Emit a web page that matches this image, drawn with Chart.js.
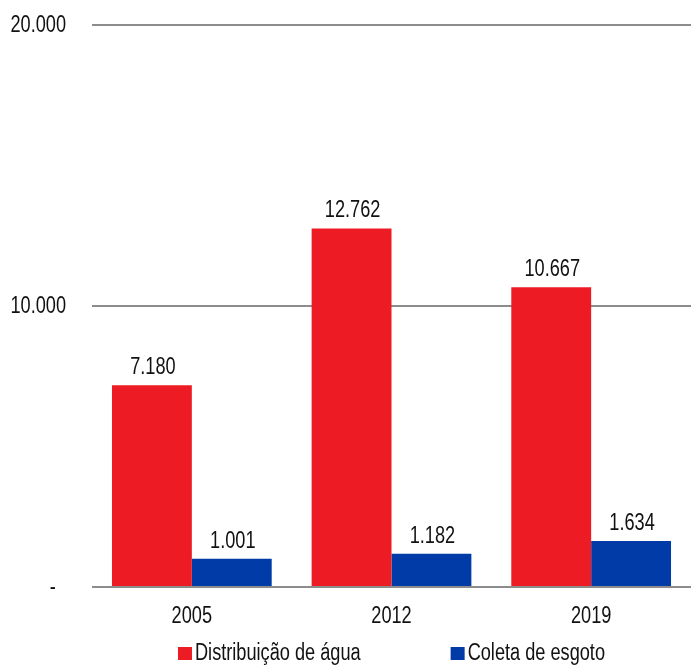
<!DOCTYPE html>
<html lang="pt-BR">
<head>
<meta charset="utf-8">
<title>Distribuição de água e coleta de esgoto</title>
<script src="https://cdn.jsdelivr.net/npm/chart.js@4.4.1/dist/chart.umd.min.js"></script>
<style>
  html, body { margin: 0; padding: 0; background: #fff; }
  #wrap { width: 691px; height: 665px; position: relative; }
</style>
</head>
<body>
<div id="wrap"><canvas id="grafico"></canvas></div>
<script>
// dados
const anos = ['2005', '2012', '2019'];
const distribuicaoAgua = [7180, 12762, 10667];
const coletaEsgoto = [1001, 1182, 1634];
const ticksY = [0, 10000, 20000];

const FONTE = "'Liberation Sans', Arial, sans-serif";
const TAM = 23;        // tamanho da fonte
const ESTREITO = 0.79; // fonte "narrow": comprime na horizontal
const VERMELHO = '#ED1C24';
const AZUL = '#003BA8';
const TEXTO = '#111';

// formata número com ponto de milhar (0 vira "-")
function formatar(v) {
  if (v === 0) return '-  ';
  return v.toString().replace(/\B(?=(\d{3})+(?!\d))/g, '.');
}

// escreve texto condensado
function texto(ctx, str, x, y, align, baseline) {
  ctx.save();
  ctx.translate(x, y);
  ctx.scale(ESTREITO, 1);
  ctx.font = `${TAM}px ${FONTE}`;
  ctx.fillStyle = TEXTO;
  ctx.textAlign = align;
  ctx.textBaseline = baseline;
  ctx.fillText(str, 0, 0);
  ctx.restore();
}

function larguraTexto(ctx, str) {
  ctx.save();
  ctx.font = `${TAM}px ${FONTE}`;
  const w = ctx.measureText(str).width * ESTREITO;
  ctx.restore();
  return w;
}

// rótulos dos eixos (posições tiradas das escalas do gráfico)
const rotulosEixos = {
  id: 'rotulosEixos',
  afterDraw(chart) {
    const ctx = chart.ctx;
    const sy = chart.scales.y, sx = chart.scales.x;
    ticksY.forEach(v => {
      texto(ctx, formatar(v), 66, sy.getPixelForValue(v) + 1, 'right', 'middle');
    });
    anos.forEach((a, i) => {
      texto(ctx, a, sx.getPixelForValue(i), 623, 'center', 'alphabetic');
    });
  }
};

// valor acima de cada barra
const rotulosBarras = {
  id: 'rotulosBarras',
  afterDatasetsDraw(chart) {
    const ctx = chart.ctx;
    chart.data.datasets.forEach((ds, i) => {
      chart.getDatasetMeta(i).data.forEach((bar, j) => {
        texto(ctx, formatar(ds.data[j]), bar.x + 1, bar.y - 11, 'center', 'alphabetic');
      });
    });
  }
};

// legenda embaixo, centralizada na área do gráfico
const legendaBaixo = {
  id: 'legendaBaixo',
  afterDraw(chart) {
    const ctx = chart.ctx;
    const area = chart.chartArea;
    const caixa = 14, espaco = 3, entre = 90;
    const itens = chart.data.datasets.map(ds => ({
      rotulo: ds.label, cor: ds.backgroundColor,
      largura: caixa + espaco + larguraTexto(ctx, ds.label)
    }));
    const total = itens.reduce((s, it) => s + it.largura, 0) + entre * (itens.length - 1);
    let x = (area.left + area.right) / 2 - total / 2;
    const y = 660;
    itens.forEach(it => {
      ctx.fillStyle = it.cor;
      ctx.fillRect(x, y - 13, caixa, 13);
      texto(ctx, it.rotulo, x + caixa + espaco, y, 'left', 'alphabetic');
      x += it.largura + entre;
    });
  }
};

const ctx = document.getElementById('grafico').getContext('2d');
new Chart(ctx, {
  type: 'bar',
  data: {
    labels: anos,
    datasets: [
      {
        label: 'Distribuição de água',
        data: distribuicaoAgua,
        backgroundColor: VERMELHO,
        categoryPercentage: 0.8,
        barPercentage: 1.0
      },
      {
        label: 'Coleta de esgoto',
        data: coletaEsgoto,
        backgroundColor: AZUL,
        categoryPercentage: 0.8,
        barPercentage: 1.0
      }
    ]
  },
  options: {
    responsive: true,
    maintainAspectRatio: false,
    animation: false,
    layout: { padding: { top: 25, right: 0, bottom: 0, left: 0 } },
    plugins: {
      legend: { display: false },
      tooltip: { enabled: false }
    },
    scales: {
      x: {
        grid: { display: false, drawTicks: false },
        border: { display: false },
        ticks: { display: false },
        afterFit(scale) { scale.height = 78; }
      },
      y: {
        min: 0,
        max: 20000,
        afterBuildTicks(scale) {
          scale.ticks = ticksY.map(v => ({ value: v }));
        },
        grid: { color: '#8c8c8c', lineWidth: 2, drawTicks: false },
        border: { display: false },
        ticks: { display: false },
        afterFit(scale) { scale.width = 92; }
      }
    }
  },
  plugins: [rotulosBarras, rotulosEixos, legendaBaixo]
});
</script>
</body>
</html>
